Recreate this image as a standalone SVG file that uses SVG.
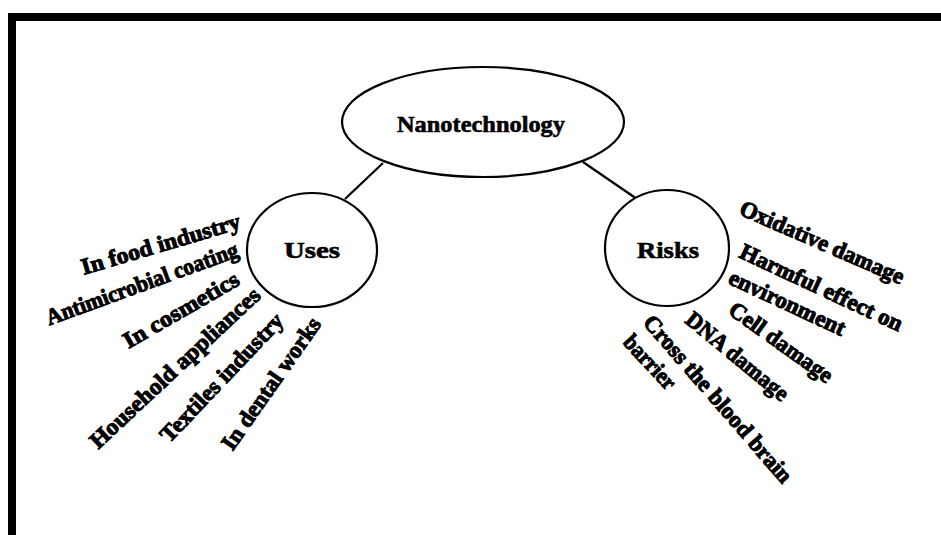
<svg xmlns="http://www.w3.org/2000/svg" width="941" height="535" viewBox="0 0 941 535">
<style>
.node{fill:#fff;stroke:#000;stroke-width:2.2}
.title{font-family:"Liberation Serif","Times New Roman",serif;font-weight:bold;font-size:24px;fill:#000;stroke:#000;stroke-width:0.6;text-anchor:middle}
.lbl{font-family:"Liberation Serif","Times New Roman",serif;font-weight:bold;font-size:23px;fill:#000;stroke:#000;stroke-width:1}
.end{text-anchor:end}
.start{text-anchor:start}
.conn{stroke:#000;stroke-width:2.2;fill:none}
</style>
<rect x="0" y="0" width="941" height="535" fill="#fff"/>
<g id="frame">
<rect x="8" y="13" width="933" height="8" fill="#000"/>
<rect x="8" y="13" width="8" height="522" fill="#000"/>
</g>
<g id="connectors">
<line class="conn" x1="383" y1="163" x2="345" y2="199"/>
<line class="conn" x1="583" y1="162" x2="637" y2="199"/>
</g>
<g id="nanotechnology">
<ellipse class="node" cx="483" cy="122" rx="141" ry="55"/>
<text class="title" x="481" y="132" textLength="168" lengthAdjust="spacingAndGlyphs">Nanotechnology</text>
</g>
<g id="uses">
<ellipse class="node" cx="312" cy="250" rx="65" ry="57"/>
<text class="title" x="312" y="258" textLength="56" lengthAdjust="spacingAndGlyphs">Uses</text>
<text class="lbl end" transform="translate(242,228) rotate(-16.5)" textLength="165" lengthAdjust="spacingAndGlyphs">In food industry</text>
<text class="lbl end" transform="translate(240,256) rotate(-20)" textLength="203" lengthAdjust="spacingAndGlyphs">Antimicrobial coating</text>
<text class="lbl end" transform="translate(241,284) rotate(-30)" textLength="130" lengthAdjust="spacingAndGlyphs">In cosmetics</text>
<text class="lbl end" transform="translate(262,297) rotate(-43)" textLength="224" lengthAdjust="spacingAndGlyphs">Household appliances</text>
<text class="lbl end" transform="translate(285,322) rotate(-46.5)" textLength="168" lengthAdjust="spacingAndGlyphs">Textiles industry</text>
<text class="lbl end" transform="translate(322,324) rotate(-55)" textLength="156" lengthAdjust="spacingAndGlyphs">In dental works</text>
</g>
<g id="risks">
<ellipse class="node" cx="667" cy="248" rx="62" ry="58"/>
<text class="title" x="668" y="258" textLength="62" lengthAdjust="spacingAndGlyphs">Risks</text>
<text class="lbl start" transform="translate(738,214) rotate(23.5)" textLength="177" lengthAdjust="spacingAndGlyphs">Oxidative damage</text>
<text class="lbl start" transform="translate(738,257) rotate(25)" textLength="177" lengthAdjust="spacingAndGlyphs">Harmful effect on</text>
<text class="lbl start" transform="translate(727,283) rotate(25)" textLength="126" lengthAdjust="spacingAndGlyphs">environment</text>
<text class="lbl start" transform="translate(727,313) rotate(35.5)" textLength="122" lengthAdjust="spacingAndGlyphs">Cell damage</text>
<text class="lbl start" transform="translate(684,322) rotate(39.5)" textLength="126" lengthAdjust="spacingAndGlyphs">DNA damage</text>
<text class="lbl start" transform="translate(642,323) rotate(49)" textLength="214" lengthAdjust="spacingAndGlyphs">Cross the blood brain</text>
<text class="lbl start" transform="translate(622,343) rotate(47)" textLength="66" lengthAdjust="spacingAndGlyphs">barrier</text>
</g>
</svg>
